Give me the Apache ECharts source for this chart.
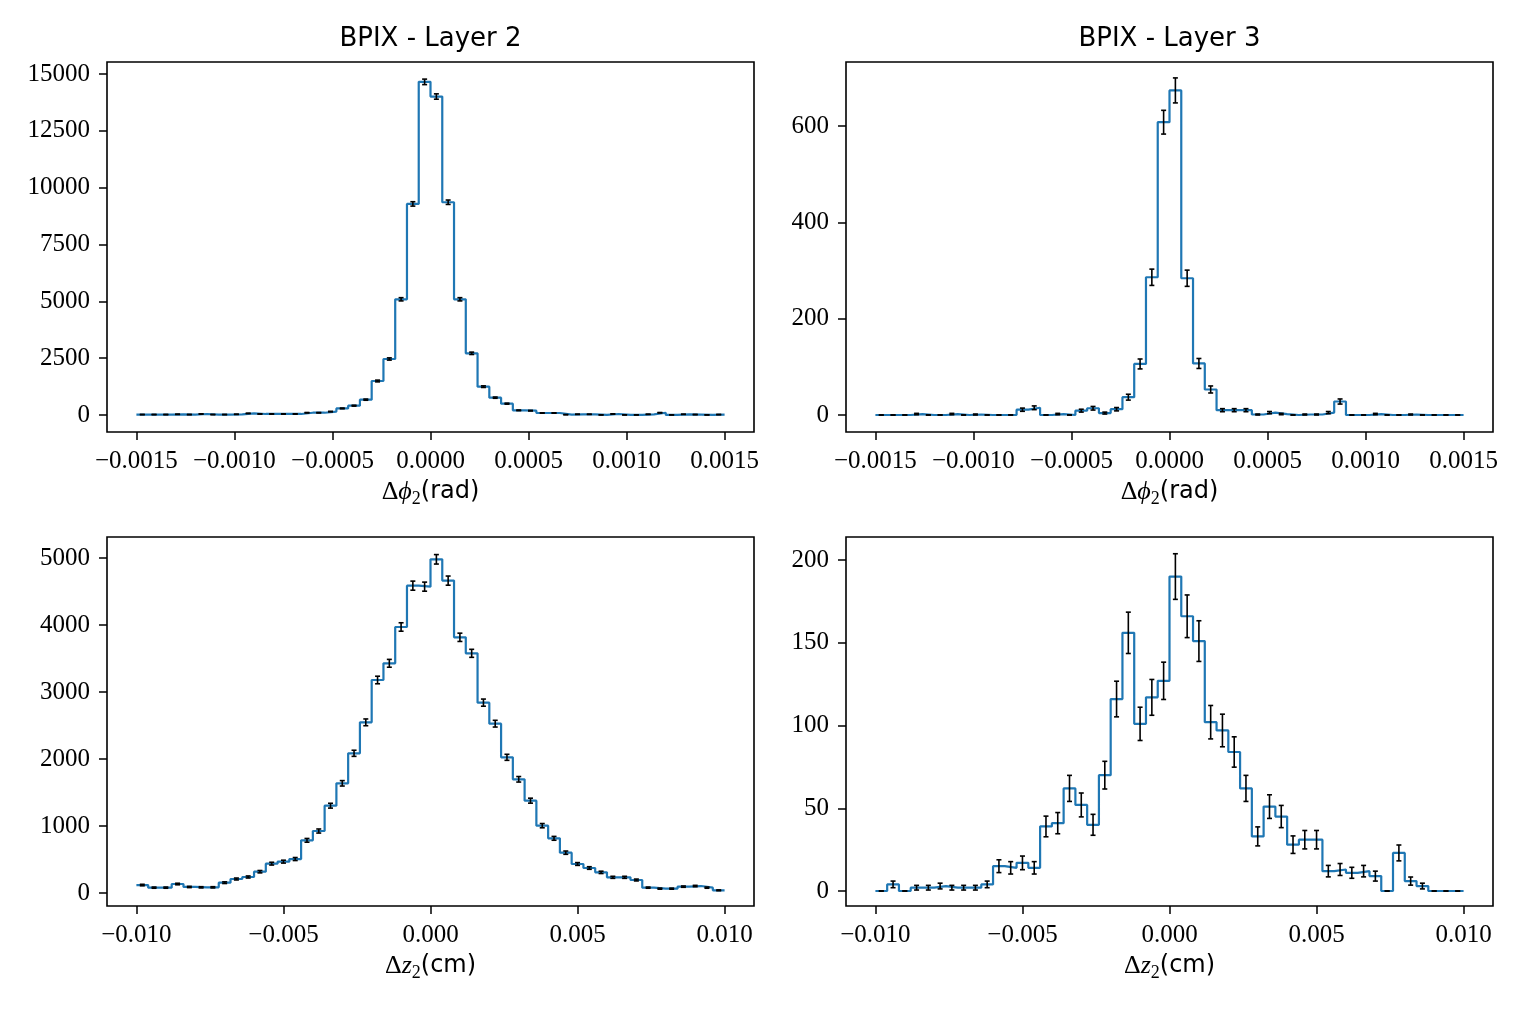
<!DOCTYPE html>
<html>
<head>
<meta charset="utf-8">
<script src="https://cdn.jsdelivr.net/npm/echarts@6/dist/echarts.min.js"></script>
<style>
html,body{margin:0;padding:0;background:#fff;}
#chart{width:1530px;height:1009px;}
</style>
</head>
<body>
<div id="chart"></div>
<script>
// ---- data ----
const phiRange = [-0.0015, 0.0015];
const zRange = [-0.01, 0.01];
const nBins = 50;

const countsPhiL2 = [20,20,20,30,20,45,20,20,30,70,45,45,45,45,100,100,150,290,410,675,1496,2464,5090,9286,14655,
  14010,9360,5090,2714,1247,763,499,205,190,88,88,15,30,30,5,45,5,5,30,100,5,30,20,5,20];
const countsPhiL3 = [0,0,0,2,0,0,2,0,1,0,0,0,11,15,0,2,0,9,14,4,12,37,106,286,608,
  674,284,107,53,10,10,10,1,5,2,0,1,1,5,28,0,0,2,0,0,1,0,0,0,0];
const countsZL2 = [119,80,80,134,90,85,85,154,209,239,318,438,468,507,786,925,1303,1637,2085,2547,3179,3428,3970,4587,4572,
  4980,4662,3816,3577,2841,2527,2025,1697,1378,1005,816,602,433,373,308,234,234,194,80,65,65,95,104,80,40];
const countsZL3 = [0,4,0,2,2,3,2,2,2,4,15,14,17,14,39,41,62,52,40,70,116,156,101,117,127,
  190,166,151,102,97,84,62,33,51,45,28,31,31,12,13,11,12,9,0,23,6,3,0,0,0];

const phiTicks = [-0.0015,-0.0010,-0.0005,0.0,0.0005,0.0010,0.0015];
const zTicks = [-0.010,-0.005,0.000,0.005,0.010];
const yTicksPhiL2 = [0,2500,5000,7500,10000,12500,15000];
const yTicksPhiL3 = [0,200,400,600];
const yTicksZL2 = [0,1000,2000,3000,4000,5000];
const yTicksZL3 = [0,50,100,150,200];

const titles = ['BPIX - Layer 2','BPIX - Layer 3'];

// ---- helpers ----
function edges(range){ const w=(range[1]-range[0])/nBins; const e=[]; for(let i=0;i<=nBins;i++) e.push(range[0]+i*w); return e; }
function stepData(counts, range){ const e=edges(range); const d=[]; counts.forEach((c,i)=>{d.push([e[i],c]);d.push([e[i+1],c]);}); return d; }
function errData(counts, range){ const e=edges(range); return counts.map((c,i)=>[(e[i]+e[i+1])/2, c, Math.sqrt(c)]); }
function fmtNum(v, dec){ const s=Math.abs(v).toFixed(dec); return (v< -1e-12 ? '\u2212' : '') + s; }

const SERIF = '"Liberation Serif", "DejaVu Serif", serif';
const SANS = '"DejaVu Sans", sans-serif';
const tickFont = 25;

const panels = [
  {counts: countsPhiL2, range: phiRange, xt: phiTicks, dec: 4, yt: yTicksPhiL2, ylim:[-748,15529], xlim:[-0.00165,0.00165], grid:{left:107,top:62,width:647,height:370}, xname:'phi'},
  {counts: countsPhiL3, range: phiRange, xt: phiTicks, dec: 4, yt: yTicksPhiL3, ylim:[-35.3,733], xlim:[-0.00165,0.00165], grid:{left:846,top:62,width:647,height:370}, xname:'phi'},
  {counts: countsZL2, range: zRange, xt: zTicks, dec: 3, yt: yTicksZL2, ylim:[-194,5313], xlim:[-0.011,0.011], grid:{left:107,top:537,width:647,height:369}, xname:'z'},
  {counts: countsZL3, range: zRange, xt: zTicks, dec: 3, yt: yTicksZL3, ylim:[-9.06,213.9], xlim:[-0.011,0.011], grid:{left:846,top:537,width:647,height:369}, xname:'z'}
];

const nameRich = {
  d:{fontFamily:SERIF,fontSize:26,color:'#000'},
  i:{fontFamily:SERIF,fontStyle:'italic',fontSize:26,color:'#000'},
  s:{fontFamily:SERIF,fontSize:18,color:'#000',padding:[14,0,0,0]},
  t:{fontFamily:SANS,fontSize:24,color:'#000'}
};

const option = {
  animation:false,
  backgroundColor:'#fff',
  title: titles.map((t,k)=>({text:t,left: k===0? 430.5 : 1169.5, top: 26, padding:0, textAlign:'center',
    textStyle:{fontFamily:SANS,fontSize:26,fontWeight:'normal',color:'#000'}})),
  grid: panels.map(p=>Object.assign({show:true,borderColor:'#000',borderWidth:1.6,backgroundColor:'transparent',containLabel:false}, p.grid)),
  xAxis: panels.map((p,k)=>({
    type:'value', gridIndex:k, min:p.xlim[0], max:p.xlim[1], position:'bottom',
    splitLine:{show:false},
    axisLine:{show:false,onZero:false},
    axisTick:{show:true,inside:false,length:8,lineStyle:{color:'#000',width:1.5},customValues:p.xt},
    axisLabel:{show:true,margin:17,fontFamily:SERIF,fontSize:tickFont,color:'#000',customValues:p.xt,
      formatter:(v)=>fmtNum(v,p.dec)},
    name: p.xname==='phi' ? '{d|Δ}{i|ϕ}{s|2}{t|(rad)}' : '{d|Δ}{i|z}{s|2}{t|(cm)}',
    nameLocation:'middle', nameGap:44,
    nameTextStyle:{rich:nameRich}
  })),
  yAxis: panels.map((p,k)=>({
    type:'value', gridIndex:k, min:p.ylim[0], max:p.ylim[1], position:'left',
    splitLine:{show:false},
    axisLine:{show:false,onZero:false},
    axisTick:{show:true,inside:false,length:8,lineStyle:{color:'#000',width:1.5},customValues:p.yt},
    axisLabel:{show:true,margin:17,fontFamily:SERIF,fontSize:tickFont,color:'#000',customValues:p.yt,
      formatter:(v)=>String(Math.round(v))}
  })),
  series: []
};

panels.forEach((p,k)=>{
  option.series.push({
    type:'line', xAxisIndex:k, yAxisIndex:k, data: stepData(p.counts,p.range),
    showSymbol:false, symbol:'none', lineStyle:{color:'#1f77b4',width:2.2}, z:2, silent:true
  });
  option.series.push({
    type:'custom', xAxisIndex:k, yAxisIndex:k, data: errData(p.counts,p.range), z:3, silent:true,
    renderItem:(params, api)=>{
      const x=api.value(0), y=api.value(1), e=api.value(2);
      const lo=api.coord([x,y-e]), hi=api.coord([x,y+e]);
      const cw=2.5;
      const st={stroke:'#000',lineWidth:1.6};
      return {type:'group',children:[
        {type:'line',shape:{x1:lo[0],y1:lo[1],x2:hi[0],y2:hi[1]},style:st},
        {type:'line',shape:{x1:lo[0]-cw,y1:lo[1],x2:lo[0]+cw,y2:lo[1]},style:st},
        {type:'line',shape:{x1:hi[0]-cw,y1:hi[1],x2:hi[0]+cw,y2:hi[1]},style:st}
      ]};
    }
  });
});

const chart = echarts.init(document.getElementById('chart'), null, {renderer:'canvas'});
chart.setOption(option);
</script>
</body>
</html>
